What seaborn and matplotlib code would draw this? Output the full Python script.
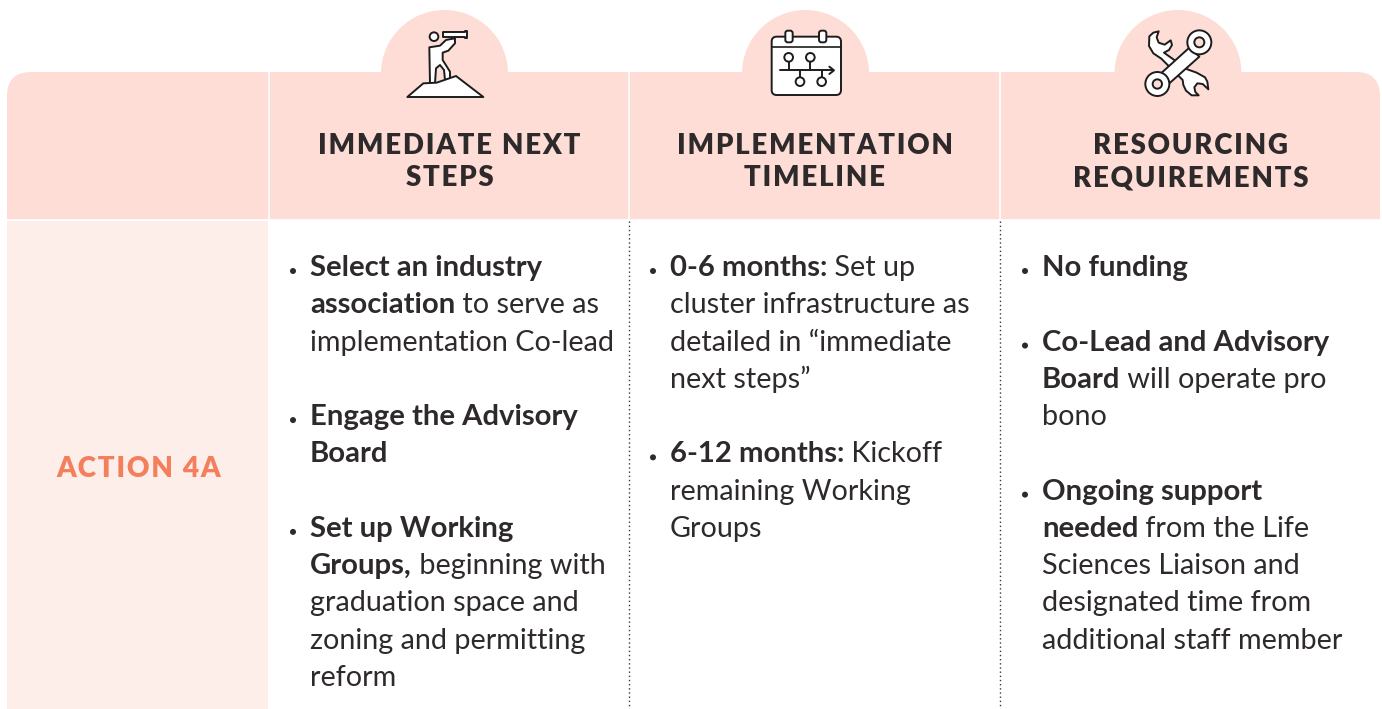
import matplotlib
matplotlib.use("Agg")
import matplotlib.pyplot as plt
import seaborn as sns
from matplotlib.patches import Circle, FancyBboxPatch, Polygon, Rectangle

# colores
HEADER = "#FDDDD6"
LIGHT = "#FDEEE9"
ORANGE = "#F47F5D"
DARK = "#2E2A2B"

headers = [["IMMEDIATE NEXT", "STEPS"], ["IMPLEMENTATION", "TIMELINE"], ["RESOURCING", "REQUIREMENTS"]]
row_label = "ACTION 4A"

# cada linea: lista de (texto, negrita); lista vacia = linea en blanco; True = lleva bullet
col1 = [
    (True, [("Select an industry", True)]),
    (False, [("association", True), (" to serve as", False)]),
    (False, [("implementation Co-lead", False)]),
    (False, []),
    (True, [("Engage the Advisory", True)]),
    (False, [("Board", True)]),
    (False, []),
    (True, [("Set up Working", True)]),
    (False, [("Groups,", True), (" beginning with", False)]),
    (False, [("graduation space and", False)]),
    (False, [("zoning and permitting", False)]),
    (False, [("reform", False)]),
]
col2 = [
    (True, [("0-6 months:", True), (" Set up", False)]),
    (False, [("cluster infrastructure as", False)]),
    (False, [("detailed in \u201cimmediate", False)]),
    (False, [("next steps\u201d", False)]),
    (False, []),
    (True, [("6-12 months:", True), (" Kickoff", False)]),
    (False, [("remaining Working", False)]),
    (False, [("Groups", False)]),
]
col3 = [
    (True, [("No funding", True)]),
    (False, []),
    (True, [("Co-Lead and Advisory", True)]),
    (False, [("Board", True), (" will operate pro", False)]),
    (False, [("bono", False)]),
    (False, []),
    (True, [("Ongoing support", True)]),
    (False, [("needed", True), (" from the Life", False)]),
    (False, [("Sciences Liaison and", False)]),
    (False, [("designated time from", False)]),
    (False, [("additional staff member", False)]),
]

sns.set_theme(style="white")
plt.rcParams["font.family"] = ["Lato", "DejaVu Sans"]

fig = plt.figure(figsize=(13.82, 7.09), dpi=100)
ax = fig.add_axes([0, 0, 1, 1])
ax.set_xlim(0, 1382)
ax.set_ylim(709, 0)
ax.axis("off")

# cabecera con esquinas redondeadas
ax.add_patch(FancyBboxPatch((7, 72), 1373, 200, boxstyle="round,pad=0,rounding_size=24", fc=HEADER, ec="none"))
ax.add_patch(Rectangle((0, 220), 1382, 100, fc="white", ec="none"))
for cx in [444.5, 805.5, 1178]:
    ax.add_patch(Circle((cx, 73.5), 63.5, fc=HEADER, ec="none"))
ax.add_patch(Rectangle((7, 221), 261, 488, fc=LIGHT, ec="none"))

for x in [269, 629, 1000]:
    ax.plot([x, x], [72, 220], color="white", lw=1.2)
ax.plot([7, 1380], [220, 220], color="white", lw=1.2)
for x in [629, 1000]:
    ax.plot([x, x], [221, 709], color="#3a3a3a", lw=1.0, ls=(0, (1, 2)))


# iconos: coordenadas tomadas de los recortes (escala 3x)
def zoom_pts(ox, pts):
    return [(ox + a / 3, b / 3) for a, b in pts]


def outline(pts, ox, fc="white", lw=1.4, z=3):
    ax.add_patch(Polygon(zoom_pts(ox, pts), closed=True, fc=fc, ec="#1c1c1c", lw=lw, joinstyle="round", zorder=z))


def ring(ox, cx, cy, r, fc="white", z=3):
    ax.add_patch(Circle((ox + cx / 3, cy / 3), r / 3, fc=fc, ec="#1c1c1c", lw=1.4, zorder=z))


# icono 1: telescopio
ox = 370
outline([(112, 291), (160, 250), (200, 248), (258, 228), (340, 291)], ox)
outline([(180, 250), (178, 142), (210, 137), (228, 120), (238, 118), (255, 115), (255, 130), (235, 152), (218, 158),
         (218, 180), (240, 215), (240, 238), (225, 240), (222, 210), (210, 195), (198, 205), (195, 250)], ox, z=2.5)
ring(ox, 192, 110, 13)
outline([(218, 97), (285, 97), (285, 93), (290, 93), (290, 114), (285, 114), (285, 110), (218, 110)], ox)

# icono 2: calendario
ox = 730
ax.add_patch(FancyBboxPatch((ox + 125 / 3, 110 / 3), 208 / 3, 175 / 3, boxstyle="round,pad=0,rounding_size=5",
                            fc="white", ec="#1c1c1c", lw=1.4, zorder=3))
ax.plot(*zip(*zoom_pts(ox, [(125, 140), (333, 140)])), color="#1c1c1c", lw=1.2, zorder=4)
for a in [166, 267]:
    ax.add_patch(FancyBboxPatch((ox + a / 3, 92 / 3), 22 / 3, 35 / 3, boxstyle="round,pad=0,rounding_size=2.5",
                                fc="white", ec="#1c1c1c", lw=1.4, zorder=4))
ax.plot(*zip(*zoom_pts(ox, [(150, 211), (310, 211)])), color="#1c1c1c", lw=1.4, zorder=4)
ax.plot(*zip(*zoom_pts(ox, [(298, 200), (312, 211), (298, 222)])), color="#1c1c1c", lw=1.4, zorder=4)
for a, b, c in [(176, 172, 211), (241, 172, 211), (210, 245, 211), (275, 245, 211)]:
    ax.plot(*zip(*zoom_pts(ox, [(a, b), (a, c)])), color="#1c1c1c", lw=1.4, zorder=4)
    ring(ox, a, b, 13, z=5)

# icono 3: llaves
ox = 1100
outline([(176, 94), (170, 112), (176, 128), (194, 134), (212, 121), (216, 135), (207, 150), (192, 158),
         (262, 208), (290, 218), (315, 232), (322, 245), (325, 268), (308, 252), (292, 250), (283, 262), (286, 276),
         (296, 286), (275, 286), (258, 272), (250, 255), (248, 240), (184, 176), (160, 160), (147, 138),
         (148, 109), (160, 98)], ox, z=3)
outline([(183, 220), (268, 143), (298, 170), (208, 250)], ox, z=4)
ring(ox, 298, 127, 36, z=4)
ring(ox, 298, 127, 15, fc=HEADER, z=5)
ring(ox, 172, 252, 36, z=4)
ring(ox, 172, 252, 14, fc=HEADER, z=5)

# textos de cabecera, con espaciado entre letras
for cx, lines in zip([449.5, 815, 1190.5], headers):
    for y, s in zip([154, 186], lines):
        ax.text(cx, y, "\u200a".join(s), ha="center", va="baseline", fontsize=19.9, fontweight="heavy", color=DARK)

ax.text(138.5, 477, "\u200a".join(row_label), ha="center", va="baseline", fontsize=20.1, fontweight="heavy", color=ORANGE)

SIZE_REG = 20.7
SIZE_BOLD = 21.1


# cuerpo: tramos en negrita y normal uno tras otro en la misma linea
def draw_column(lines, x0):
    renderer = fig.canvas.get_renderer()
    for i, (bullet, runs) in enumerate(lines):
        y = 276 + i * 37.27
        x = x0
        if bullet:
            ax.add_patch(Circle((x0 - 17, y - 5), 3.0, fc=DARK, ec="none"))
        for s, bold in runs:
            size = SIZE_BOLD if bold else SIZE_REG
            weight = "bold" if bold else "normal"
            ax.text(x, y, s, ha="left", va="baseline", fontsize=size, color=DARK, fontweight=weight)
            # los espacios iniciales no cuentan en el bbox: se mide con un caracter delante
            probe = ax.text(0, 0, "|" + s + "|", fontsize=size, fontweight=weight)
            bar = ax.text(0, 0, "||", fontsize=size, fontweight=weight)
            x += probe.get_window_extent(renderer).width - bar.get_window_extent(renderer).width
            probe.remove()
            bar.remove()


draw_column(col1, 310)
draw_column(col2, 670)
draw_column(col3, 1042)

plt.savefig("out.png", dpi=100)
